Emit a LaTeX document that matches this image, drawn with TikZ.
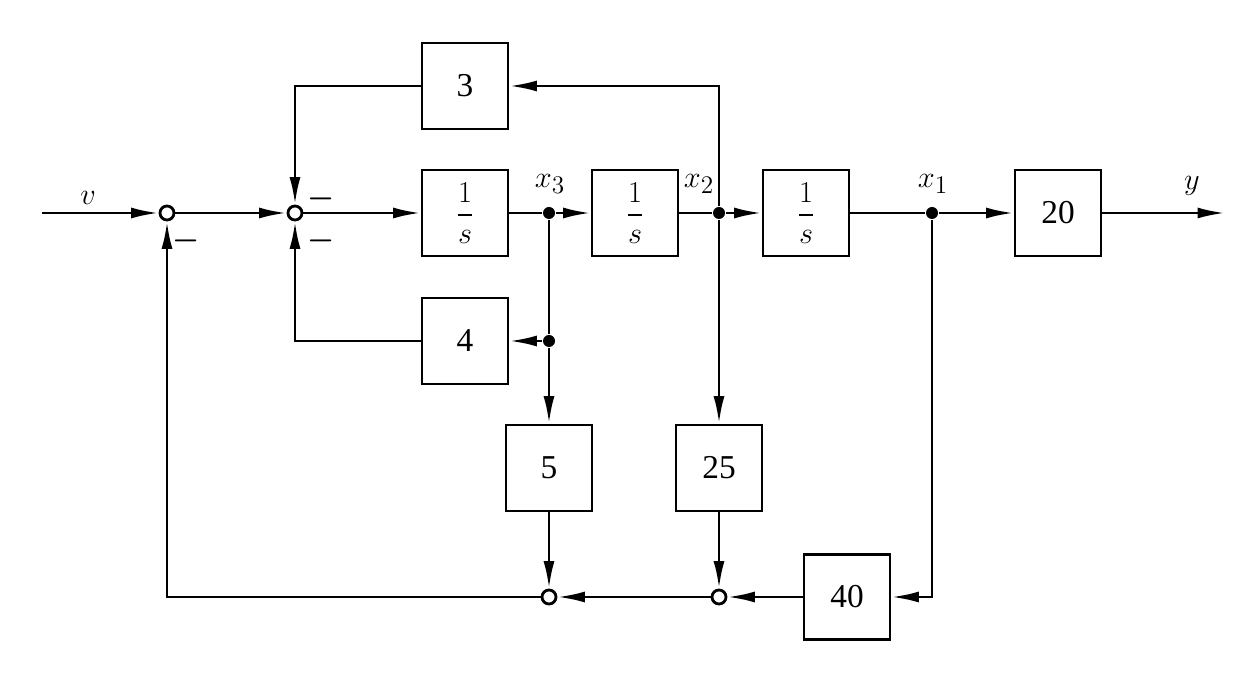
\documentclass[tikz,border=0pt]{standalone}
\usepackage{amsmath}
\usepackage{fontspec}
\setmainfont{Liberation Serif}
\usetikzlibrary{arrows.meta}

\tikzset{
    block/.style={rectangle, draw, line width=1.6pt, minimum width=1.72cm, minimum height=1.72cm, font=\fontsize{19}{22}\selectfont},
    sumnode/.style={circle, draw, line width=1.6pt, fill=white, minimum size=0.28cm, inner sep=0pt},
    dotnode/.style={circle, fill, minimum size=0.24cm, inner sep=0pt},
    sign/.style={font=\fontsize{19}{22}\selectfont\boldmath, inner sep=0pt},
    lbl/.style={font=\fontsize{19}{22}\selectfont, inner sep=0pt}
}

\begin{document}
\begin{tikzpicture}[
    line width=1.6pt,
    >={Latex[length=5.5mm,width=2.2mm]}
]
\useasboundingbox (0,0) rectangle (25.2,13.8);

% forward path
\coordinate (in) at (0.84,9.54);
\node[sumnode] (s1) at (3.34,9.54) {};
\node[sumnode] (s2) at (5.9,9.54) {};
\node[block] (g1) at (9.3,9.54) {$\dfrac{1}{s}$};
\node[dotnode] (d3) at (10.98,9.54) {};
\node[block] (g2) at (12.7,9.54) {$\dfrac{1}{s}$};
\node[dotnode] (d2) at (14.38,9.54) {};
\node[block] (g3) at (16.12,9.54) {$\dfrac{1}{s}$};
\node[dotnode] (d1) at (18.64,9.54) {};
\node[block] (k20) at (21.16,9.54) {20};
\coordinate (out) at (24.5,9.54);

% feedback blocks
\node[block] (k3) at (9.3,12.08) {3};
\node[block] (k4) at (9.3,6.98) {4};
\node[dotnode] (d4) at (10.98,6.98) {};
\node[block] (k5) at (10.98,4.44) {5};
\node[block] (k25) at (14.38,4.44) {25};
\node[block, minimum height=1.7cm] (k40) at (16.94,1.86) {40};
\node[sumnode] (s3) at (10.98,1.86) {};
\node[sumnode] (s4) at (14.38,1.86) {};

% labels
\node[lbl] (lv) at (1.76,9.85) {$v$};
\node[lbl] (lx3) at (11.0,10.12) {$x_3$};
\node[lbl] (lx2) at (13.98,10.12) {$x_2$};
\node[lbl] (lx1) at (18.66,10.12) {$x_1$};
\node[lbl] (ly) at (23.84,10.08) {$y$};
\node[sign] (m1) at (3.72,8.98) {$-$};
\node[sign] (m2) at (6.42,9.82) {$-$};
\node[sign] (m3) at (6.42,8.98) {$-$};

\draw[->] (in) -- (s1);
\draw[->] (s1) -- (s2);
\draw[->] (s2) -- (g1);
\draw (g1) -- (d3);
\draw[->] (d3) -- (g2);
\draw (g2) -- (d2);
\draw[->] (d2) -- (g3);
\draw (g3) -- (d1);
\draw[->] (d1) -- (k20);
\draw[->] (k20) -- (out);

\draw[->] (d2) |- (k3);
\draw[->] (k3) -| (s2);
\draw (d3) -- (d4);
\draw[->] (d4) -- (k4);
\draw[->] (k4) -| (s2);
\draw[->] (d4) -- (k5);
\draw[->] (d2) -- (k25);
\draw[->] (k5) -- (s3);
\draw[->] (k25) -- (s4);
\draw[->] (d1) |- (k40);
\draw[->] (k40) -- (s4);
\draw[->] (s4) -- (s3);
\draw[->] (s3) -| (s1);
\end{tikzpicture}
\end{document}
